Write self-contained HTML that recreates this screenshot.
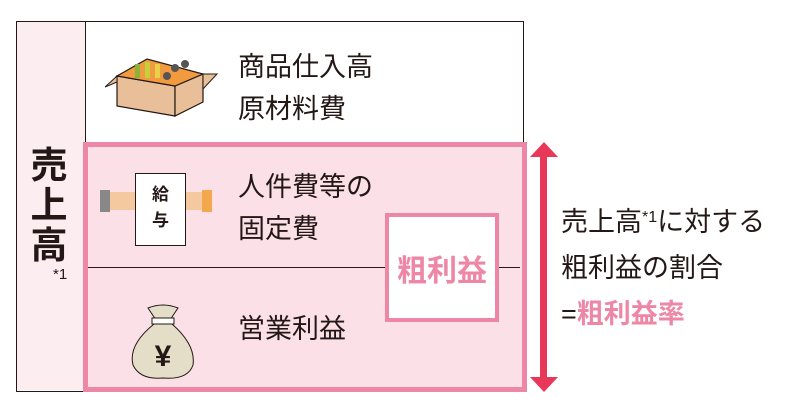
<!DOCTYPE html>
<html><head><meta charset="utf-8"><style>
body{margin:0;width:812px;height:414px;background:#fff;position:relative;overflow:hidden;font-family:"Liberation Sans","Noto Sans CJK JP",sans-serif;color:#231815}
.a{position:absolute}
.t{font-size:27px;line-height:30px;white-space:nowrap}
</style></head><body>
<div class="a" style="left:16px;top:21px;width:506px;height:369px;border:1.5px solid #231815;"></div>
<div class="a" style="left:17px;top:22px;width:68px;height:368px;background:#fbedf0;border-right:1.5px solid #231815"></div>
<div class="a" style="left:83px;top:142px;width:434px;height:240px;border:5px solid #ee87a5;background:#fbe0e8"></div>
<div class="a" style="left:88px;top:267px;width:432px;height:1px;background:#231815"></div>
<div class="a" style="left:385px;top:213px;width:106px;height:101px;border:4px solid #ee87a5;background:#fff"></div>
<div class="a" style="left:385px;top:246px;width:114px;text-align:center;font-size:30px;font-weight:bold;color:#ee87a5">粗利益</div>
<div class="a" style="left:24px;top:146px;font-size:37px;font-weight:bold;line-height:40px;width:50px;text-align:center">売<br>上<br>高</div>
<div class="a" style="left:53px;top:266px;font-size:15px">*1</div>
<div class="a t" style="left:238px;top:46px;line-height:42px">商品仕入高<br>原材料費</div>
<div class="a t" style="left:238px;top:166px;line-height:42px">人件費等の<br>固定費</div>
<div class="a t" style="left:238px;top:314px">営業利益</div>
<svg class="a" style="left:105px;top:54px" width="115" height="65" viewBox="0 0 115 65">
<polygon points="12,22 70,32 70,62 12,52" fill="#e8bf98" stroke="#231815" stroke-width="1.2"/>
<polygon points="70,32 98,20 98,48 70,62" fill="#e8bf98" stroke="#231815" stroke-width="1.2"/>
<polygon points="12,22 42,5 98,20 70,32" fill="#f19a3e" stroke="#231815" stroke-width="1.2"/>
<polygon points="12,22 0,33 12,28" fill="#e8bf98" stroke="#231815"/>
<polygon points="98,20 112,20 98,35" fill="#e8bf98" stroke="#231815"/>
<rect x="30" y="10" width="5" height="14" fill="#8bb23a"/><rect x="40" y="8" width="5" height="16" fill="#c4d13a"/><rect x="50" y="10" width="5" height="14" fill="#e8d04a"/>
<circle cx="70" cy="14" r="4" fill="#555"/><circle cx="80" cy="10" r="4" fill="#555"/><circle cx="62" cy="22" r="4" fill="#555"/>
</svg>
<div class="a" style="left:102px;top:192px;width:40px;height:18px;background:#f5c9a0;border-radius:8px"></div>
<div class="a" style="left:168px;top:192px;width:40px;height:18px;background:#f5c9a0;border-radius:8px"></div>
<div class="a" style="left:100px;top:190px;width:10px;height:22px;background:#888"></div>
<div class="a" style="left:202px;top:190px;width:10px;height:22px;background:#f3a84e"></div>
<div class="a" style="left:135px;top:173px;width:51px;height:73px;border:1px solid #231815;background:#fff;font-weight:bold;font-size:17px;line-height:26px;text-align:center;padding-top:8px;box-sizing:border-box">給<br>与</div>
<svg class="a" style="left:128px;top:300px" width="70" height="80" viewBox="0 0 70 80">
<path d="M20 8 Q35 2 50 8 L42 20 L28 20 Z" fill="#e4ddc8" stroke="#231815"/>
<rect x="24" y="18" width="22" height="6" fill="#fff" stroke="#231815"/>
<path d="M26 24 Q0 45 5 65 Q12 80 35 78 Q60 80 65 65 Q68 45 44 24 Z" fill="#e4ddc8" stroke="#231815"/>
<text x="35" y="66" text-anchor="middle" font-size="30" font-weight="bold" fill="#231815" font-family="Liberation Sans,sans-serif">¥</text>
</svg>
<div class="a" style="left:540px;top:155px;width:7px;height:224px;background:#e8385a"></div>
<svg class="a" style="left:529px;top:142px" width="30" height="252"><polygon points="15,0 29,15 1,15" fill="#e8385a"/><polygon points="15,250 29,235 1,235" fill="#e8385a"/></svg>
<div class="a t" style="left:561px;top:195px;line-height:46px">売上高<span style="font-size:16px;vertical-align:9px">*1</span>に対する<br>粗利益の割合<br>=<b style="color:#ee87a5">粗利益率</b></div>
</body></html>
